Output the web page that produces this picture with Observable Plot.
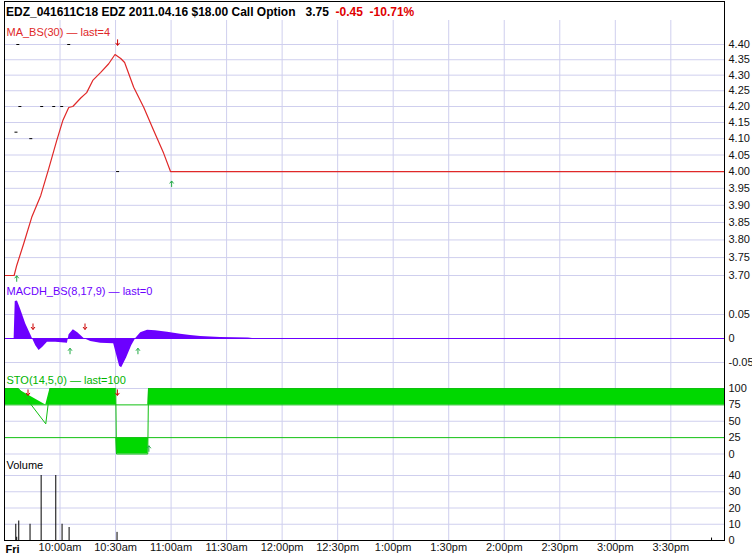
<!DOCTYPE html>
<html>
<head>
<meta charset="utf-8">
<script src="https://cdn.jsdelivr.net/npm/d3@7"></script>
<script src="https://cdn.jsdelivr.net/npm/@observablehq/plot@0.6"></script>
<style>
  body { margin: 0; background: #fff; }
  #wrap { position: relative; width: 752px; height: 555px; overflow: hidden; background: #fff;
          font-family: "Liberation Sans", Arial, sans-serif; }
  #frame { position: absolute; left: 4px; top: 1px; width: 721px; height: 540px;
           box-sizing: border-box; border: 1px solid #000; pointer-events: none; }
  #title { position: absolute; left: 6px; top: 5px; font-size: 12px; font-weight: bold;
           line-height: 15px; white-space: pre; color: #000; }
  #title .neg { color: #e00000; }
  svg { position: absolute; left: 0; }
</style>
</head>
<body>
<div id="wrap"><div id="title"></div></div>
<script>
// ---------------- data ----------------
const titleName = "EDZ_041611C18 EDZ 2011.04.16 $18.00 Call Option";
const titleLast = "3.75";
const titleChange = "-0.45";
const titleChangePct = "-10.71%";

const dayLabel = "Fri";
const timeTicks = [30, 60, 90, 120, 150, 180, 210, 240, 270, 300, 330, 360]; // minutes after 9:30
const timeLabels = ["10:00am", "10:30am", "11:00am", "11:30am", "12:00pm", "12:30pm",
                    "1:00pm", "1:30pm", "2:00pm", "2:30pm", "3:00pm", "3:30pm"];

const priceLabel = "MA_BS(30) \u2014 last=4";
const priceTicks = [3.70, 3.75, 3.80, 3.85, 3.90, 3.95, 4.00, 4.05, 4.10, 4.15, 4.20, 4.25, 4.30, 4.35, 4.40];
const priceTimes  = [0, 5.2, 6.6, 10.4, 14.7, 19.6, 23.9, 28.2, 31.5, 34.7, 36.9, 41.2, 44.4, 47.7, 52, 56.3, 59.7, 62.8, 64.9, 69.8, 75.2, 80.6, 86, 89.7, 389];
const priceValues = [3.70, 3.70, 3.728, 3.790, 3.865, 3.929, 4.009, 4.094, 4.156, 4.197, 4.20, 4.227, 4.244, 4.283, 4.309, 4.337, 4.367, 4.354, 4.341, 4.261, 4.198, 4.125, 4.055, 4.00, 4.00];
const tickDashTimes  = [7.2, 34.7, 8.3, 20.1, 26.6, 30.9, 6.2, 14.2, 61.1];
const tickDashValues = [4.40, 4.40, 4.20, 4.20, 4.20, 4.20, 4.12, 4.10, 4.00];
const priceSellTimes = [61.1];
const priceSellValues = [4.407];
const priceBuyTimes = [6.6, 90.3];
const priceBuyValues = [3.691, 3.963];

const macdLabel = "MACDH_BS(8,17,9) \u2014 last=0";
const macdTicks = [-0.05, 0, 0.05];
const macdTimes  = [0, 5.2, 5.8, 7.0, 8.8, 11.5, 15.1, 16.9, 18.7, 20.7, 23.2, 27.7, 34.0, 34.9, 37.2, 39.6, 43.0, 46.6, 52.0, 59.0, 60.3, 62.2, 63.3, 66.0, 68.7, 70.9, 73.6, 77.3, 81.6, 88.1, 95.1, 100.5, 106.0, 116.7, 131.8, 134.0, 389];
const macdValues = [0, 0, 0.077, 0.078, 0.06, 0.03, 0, -0.015, -0.025, -0.018, -0.008, -0.008, -0.01, 0.008, 0.018, 0.012, 0, -0.006, -0.01, -0.011, -0.03, -0.058, -0.061, -0.04, -0.015, 0, 0.012, 0.017, 0.016, 0.013, 0.009, 0.006, 0.004, 0.002, 0.0012, 0, 0];
const macdSellTimes = [15.4, 43.5];
const macdSellValues = [0.025, 0.025];
const macdBuyTimes = [35.4, 72.1];
const macdBuyValues = [-0.0265, -0.0265];

const stoLabel = "STO(14,5,0) \u2014 last=100";
const stoTicks = [0, 25, 50, 75, 100];
const stoLevels = [25, 75];
const stoTimes  = [0, 7.5, 8.5, 22.3, 24.6, 60.1, 60.5, 77.4, 77.8, 389];
const stoValues = [100, 100, 97, 46, 100, 100, 0, 0, 100, 100];
const stoSellTimes = [12.7, 61.0];
const stoSellValues = [94, 94];
const stoBuyTimes = [78.0];
const stoBuyValues = [8];

const volLabel = "Volume";
const volTicks = [0, 10, 20, 30, 40];
const volTimes  = [6.1, 6.6, 7.7, 13.8, 19.8, 27.7, 31.1, 34.9, 60.8, 382];
const volValues = [10, 2, 12, 10, 40, 40, 10, 8, 5, 1.5];

// ---------------- build ----------------
const zip = (ts, vs) => ts.map((t, i) => ({t, v: vs[i]}));
const price = zip(priceTimes, priceValues);
const dashes = zip(tickDashTimes, tickDashValues);
const macd = zip(macdTimes, macdValues);
const sto = zip(stoTimes, stoValues);
const vol = zip(volTimes, volValues);

const W = 752;
const gridColor = "#cfcfee";
const red = "#e02828";
const purple = "#6c00ff";
const green = "#00d800";
const greenText = "#00b400";
const sellColor = "#cc0000";
const buyColor = "#22aa44";
const font = "'Liberation Sans', Arial, sans-serif";

const arrowDown = {draw(ctx) { ctx.moveTo(0, -3); ctx.lineTo(0, 3); ctx.moveTo(-2, 0.5); ctx.lineTo(0, 3); ctx.lineTo(2, 0.5); }};
const arrowUp   = {draw(ctx) { ctx.moveTo(0, 3); ctx.lineTo(0, -3); ctx.moveTo(-2, -0.5); ctx.lineTo(0, -3); ctx.lineTo(2, -0.5); }};
const dash      = {draw(ctx) { ctx.moveTo(-1.5, 0); ctx.lineTo(1.5, 0); }};

const wrap = document.getElementById("wrap");
const title = document.getElementById("title");
title.innerHTML = `${titleName}   ${titleLast}  <span class="neg">${titleChange}  ${titleChangePct}</span>`;

const xScale = {domain: [0, 389], axis: null};
const baseStyle = {fontFamily: font, fontSize: "11px", background: "transparent", overflow: "visible"};

function signals(ts, vs, sym, color) {
  return Plot.dot(zip(ts, vs), {x: "t", y: "v", symbol: sym, r: 3, fill: "none", stroke: color, strokeWidth: 1});
}
function label(text, color, dy) {
  return Plot.text([text], {text: d => d, frameAnchor: "top-left", dx: 2, dy, textAnchor: "start",
                            lineAnchor: "middle", fill: color, fontSize: 11});
}
function yAxis(ticks, fmt) {
  return Plot.axisY(ticks, {anchor: "right", tickSize: 0, tickPadding: 4, tickFormat: fmt, fontSize: 11, fill: "#111"});
}
function place(svg, top) {
  svg.style.top = top + "px";
  wrap.appendChild(svg);
}

// Price panel
place(Plot.plot({
  width: W, height: 263, marginLeft: 4, marginRight: 28, marginTop: 0, marginBottom: 0,
  style: baseStyle,
  x: xScale,
  y: {type: "log", domain: [3.70, 4.40], range: [255, 24], label: null},
  marks: [
    Plot.ruleY(priceTicks, {stroke: gridColor}),
    Plot.ruleX(timeTicks, {stroke: gridColor}),
    Plot.line(price, {x: "t", y: "v", stroke: red, strokeWidth: 1.2}),
    Plot.dot(dashes, {x: "t", y: "v", symbol: dash, fill: "none", stroke: "#000", strokeWidth: 1}),
    signals(priceSellTimes, priceSellValues, arrowDown, sellColor),
    signals(priceBuyTimes, priceBuyValues, arrowUp, buyColor),
    label(priceLabel, red, 12),
    yAxis(priceTicks, d => d.toFixed(2))
  ]
}), 20);

// MACD panel
place(Plot.plot({
  width: W, height: 90, marginLeft: 4, marginRight: 28, marginTop: 0, marginBottom: 0,
  style: baseStyle,
  x: xScale,
  y: {domain: [-0.05, 0.05], range: [79, 31], label: null},
  marks: [
    Plot.ruleY(macdTicks.filter(d => d !== 0), {stroke: gridColor}),
    Plot.ruleX(timeTicks, {stroke: gridColor}),
    Plot.areaY(macd, {x: "t", y: "v", fill: purple}),
    Plot.ruleY([0], {stroke: purple}),
    signals(macdSellTimes, macdSellValues, arrowDown, sellColor),
    signals(macdBuyTimes, macdBuyValues, arrowUp, buyColor),
    label(macdLabel, purple, 8),
    yAxis(macdTicks, d => d === 0 ? "0" : d.toFixed(2))
  ]
}), 283);

// Stochastic panel
place(Plot.plot({
  width: W, height: 85, marginLeft: 4, marginRight: 28, marginTop: 0, marginBottom: 0,
  style: baseStyle,
  x: xScale,
  y: {domain: [0, 100], range: [80.5, 15], label: null},
  marks: [
    Plot.ruleY(stoTicks.filter(d => !stoLevels.includes(d)), {stroke: gridColor}),
    Plot.ruleX(timeTicks, {stroke: gridColor}),
    Plot.areaY(sto, {x: "t", y1: stoLevels[1], y2: d => Math.max(d.v, stoLevels[1]), fill: green}),
    Plot.areaY(sto, {x: "t", y1: stoLevels[0], y2: d => Math.min(d.v, stoLevels[0]), fill: green}),
    Plot.ruleY(stoLevels, {stroke: "#10c010"}),
    Plot.line(sto, {x: "t", y: "v", stroke: "#10c010", strokeWidth: 1}),
    signals(stoSellTimes, stoSellValues, arrowDown, sellColor),
    signals(stoBuyTimes, stoBuyValues, arrowUp, buyColor),
    label(stoLabel, greenText, 7),
    yAxis(stoTicks, d => String(d))
  ]
}), 373);

// Volume panel (with time axis)
place(Plot.plot({
  width: W, height: 97, marginLeft: 4, marginRight: 28, marginTop: 0, marginBottom: 15,
  style: baseStyle,
  x: {domain: [0, 389]},
  y: {domain: [0, 40], range: [82, 17], label: null},
  marks: [
    Plot.ruleY(volTicks.filter(d => d > 0), {stroke: gridColor}),
    Plot.ruleX(timeTicks, {stroke: gridColor}),
    Plot.ruleX(vol, {x: "t", y1: 0, y2: "v", stroke: "#000", strokeWidth: 1}),
    label(volLabel, "#000", 7),
    yAxis(volTicks, d => String(d)),
    Plot.axisX(timeTicks, {anchor: "bottom", tickSize: 0, tickPadding: 3, fontSize: 11, fill: "#111",
                           tickFormat: d => timeLabels[timeTicks.indexOf(d)], label: null}),
    Plot.text([dayLabel], {text: d => d, x: () => 0, frameAnchor: "bottom", dy: 9, dx: 1,
                           textAnchor: "start", lineAnchor: "middle", fontWeight: "bold", fontSize: 11, fill: "#000"})
  ]
}), 458);

const frame = document.createElement("div");
frame.id = "frame";
wrap.appendChild(frame);
</script>
</body>
</html>
